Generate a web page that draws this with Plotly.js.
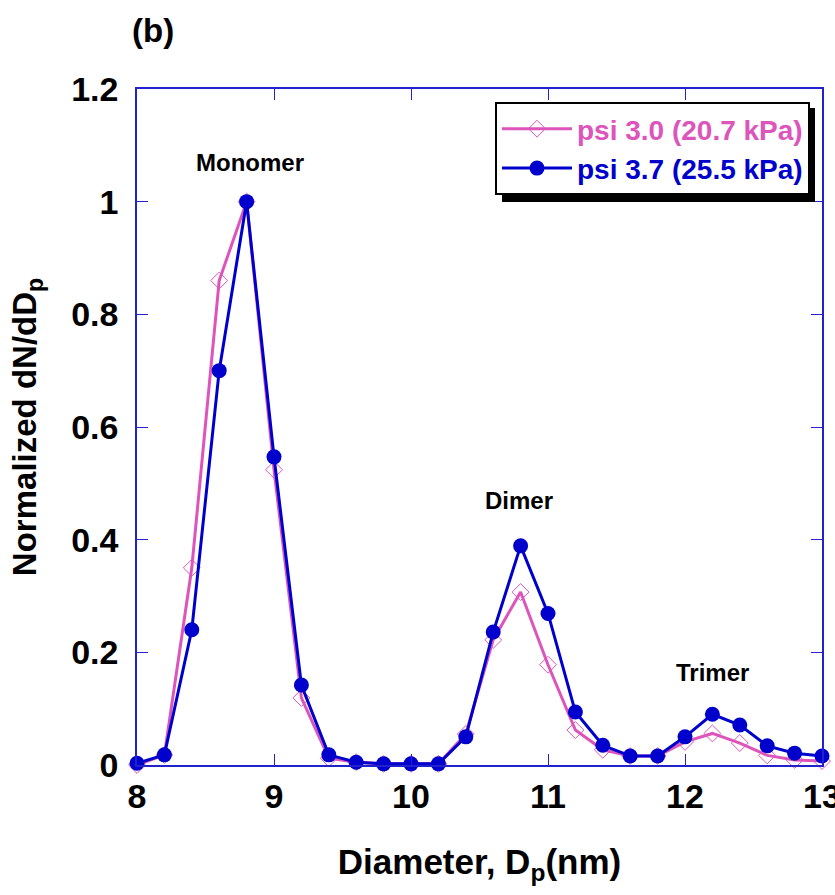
<!DOCTYPE html>
<html>
<head>
<meta charset="utf-8">
<script src="https://cdn.plot.ly/plotly-3.0.1.min.js"></script>
<style>html,body{margin:0;padding:0;background:#fff;}#chart{width:835px;height:895px;}</style>
</head>
<body>
<div id="chart"></div>
<script>
const diameter = [8.0, 8.2, 8.4, 8.6, 8.8, 9.0, 9.2, 9.4, 9.6, 9.8, 10.0, 10.2, 10.4, 10.6, 10.8, 11.0, 11.2, 11.4, 11.6, 11.8, 12.0, 12.2, 12.4, 12.6, 12.8, 13.0];
const psi30 = [0.0, 0.018, 0.35, 0.86, 1.0, 0.524, 0.119, 0.012, 0.005, 0.002, 0.002, 0.002, 0.055, 0.222, 0.307, 0.178, 0.062, 0.027, 0.016, 0.016, 0.041, 0.056, 0.039, 0.017, 0.009, 0.007];
const psi37 = [0.003, 0.018, 0.24, 0.70, 1.0, 0.547, 0.142, 0.018, 0.005, 0.002, 0.002, 0.002, 0.05, 0.236, 0.389, 0.269, 0.094, 0.035, 0.016, 0.016, 0.05, 0.09, 0.071, 0.034, 0.021, 0.016];
const seriesNames = ['psi 3.0 (20.7 kPa)', 'psi 3.7 (25.5 kPa)'];
const peakLabels = ['Monomer', 'Dimer', 'Trimer'];
const peakX = [8.825, 10.79, 12.2];
const peakY = [1.069, 0.47, 0.165];

const PINK = '#DD55BB', BLUE = '#0000CC', AXIS = '#2222CC';
const FONT = 'Arial, Liberation Sans, sans-serif';

// plot area in pixels (for converting decoration positions to paper coords)
const PL = 137, PW = 685, PB = 765, PH = 676;
const px = p => (p - PL) / PW;
const py = p => (PB - p) / PH;

const traces = [
  {x: diameter, y: psi30, name: seriesNames[0], mode: 'lines+markers', type: 'scatter', cliponaxis: false,
   line: {color: PINK, width: 3}, marker: {symbol: 'diamond-open', size: 13, color: PINK, line: {width: 1, color: PINK}}},
  {x: diameter, y: psi37, name: seriesNames[1], mode: 'lines+markers', type: 'scatter', cliponaxis: false,
   line: {color: BLUE, width: 3}, marker: {symbol: 'circle', size: 15, color: BLUE}}
];

const annotations = peakLabels.map((t, i) => ({
  x: peakX[i], y: peakY[i], xref: 'x', yref: 'y', text: '<b>' + t + '</b>', showarrow: false,
  font: {family: FONT, size: 24, color: '#000'}
}));
annotations.push({x: px(130), y: py(31), xref: 'paper', yref: 'paper', text: '<b>(b)</b>', showarrow: false,
  font: {family: FONT, size: 33, color: '#000'}, xanchor: 'left', yanchor: 'middle'});

const layout = {
  width: 835, height: 895,
  margin: {l: 137, r: 13, t: 89, b: 130},
  paper_bgcolor: '#fff', plot_bgcolor: '#fff',
  showlegend: true,
  legend: {x: px(495), y: py(102), xanchor: 'left', yanchor: 'top', bgcolor: '#fff', bordercolor: '#000', borderwidth: 2,
    font: {family: FONT, size: 28, weight: 'bold'}, itemwidth: 70, tracegroupgap: 0},
  xaxis: {range: [8, 13], dtick: 1, tick0: 8, ticks: 'inside', ticklen: 11, tickcolor: AXIS, tickwidth: 1,
    showline: true, linecolor: AXIS, linewidth: 1.5, mirror: 'ticks', showgrid: false, zeroline: false,
    ticklabeloverflow: 'allow',
    tickfont: {family: FONT, size: 34, color: '#000', weight: 'bold'},
    title: {text: '<b>Diameter, D<sub>p</sub>(nm)</b>', font: {family: FONT, size: 35, color: '#000'}, standoff: 36}},
  yaxis: {range: [0, 1.2], dtick: 0.2, ticks: 'inside', ticklen: 11, tickcolor: AXIS, tickwidth: 1,
    showline: true, linecolor: AXIS, linewidth: 1.5, mirror: 'ticks', showgrid: false, zeroline: false,
    ticklabelstandoff: 10,
    tickfont: {family: FONT, size: 34, color: '#000', weight: 'bold'},
    title: {text: '<b>Normalized dN/dD<sub>p</sub></b>', font: {family: FONT, size: 33, color: '#000'}, standoff: 25}},
  annotations: annotations,
  shapes: [{type: 'rect', xref: 'paper', yref: 'paper', layer: 'above',
    x0: px(502), x1: px(815), y0: py(202), y1: py(108), fillcolor: '#000', line: {width: 0}}]
};

const gd = document.getElementById('chart');
Plotly.newPlot(gd, traces, layout, {displayModeBar: false}).then(() => {
  gd.querySelectorAll('.legendtext').forEach((el, i) => {
    el.style.fill = i === 0 ? PINK : BLUE;
    el.style.fontWeight = 'bold';
  });
});
</script>
</body>
</html>
